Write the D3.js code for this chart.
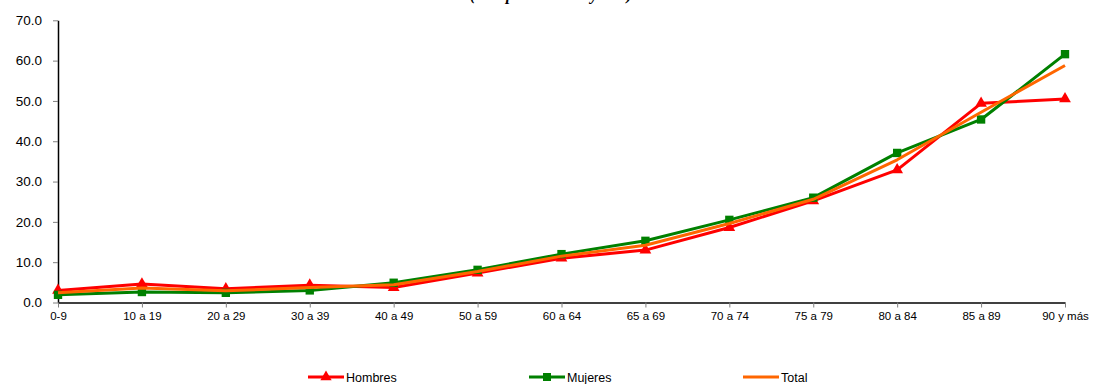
<!DOCTYPE html>
<html lang="es">
<head>
  <meta charset="UTF-8">
  <title>Tasas por grupo de edad</title>
  <script src="https://cdn.jsdelivr.net/npm/d3@7/dist/d3.min.js"></script>
  <style>
  body{
    margin: 0;
    background: #fff;
  }
  .titulo{
    font-family: 'Liberation Serif', serif;
    font-style: italic;
    font-weight: bold;
    font-size: 16px;
    fill: #000;
  }
  .ejeY text{
    font-family: 'Liberation Sans', Arial, sans-serif;
    font-size: 13.5px;
    fill: #000;
  }
  .ejeX text{
    font-family: 'Liberation Sans', Arial, sans-serif;
    font-size: 11.5px;
    fill: #000;
  }
  .ejeY line, .ejeX line{
    stroke: #808080;
  }
  .ejeY path, .ejeX path{
    stroke: #000;
    stroke-width: 1.5px;
  }
  .leyenda{
    font-family: 'Liberation Sans', Arial, sans-serif;
    font-size: 12.5px;
    fill: #000;
  }
  </style>
</head>
<body>
  <div id="grafico"></div>

  <script>
    // datos
    var grupos = ['0-9', '10 a 19', '20 a 29', '30 a 39', '40 a 49', '50 a 59', '60 a 64',
                  '65 a 69', '70 a 74', '75 a 79', '80 a 84', '85 a 89', '90 y más'];
    var hombres = [3.0, 4.6, 3.4, 4.3, 3.7, 7.3, 11.0, 13.0, 18.6, 25.2, 32.9, 49.4, 50.5];
    var mujeres = [1.9, 2.6, 2.4, 3.0, 4.9, 8.1, 12.0, 15.3, 20.5, 26.0, 37.1, 45.4, 61.6];
    var total   = [2.4, 3.6, 2.9, 3.7, 4.4, 7.7, 11.5, 14.2, 19.6, 25.6, 35.4, 47.2, 58.8];
    var ticksY  = [0, 10, 20, 30, 40, 50, 60, 70];
    var nombresSeries = ['Hombres', 'Mujeres', 'Total'];

    var w = 1094;
    var h = 384;
    var izq = 58, der = 1065, arriba = 20.3, abajo = 302.5;

    var series = [
      {nombre: nombresSeries[0], valores: hombres, color: '#FF0000', marca: d3.symbolTriangle},
      {nombre: nombresSeries[1], valores: mujeres, color: '#008000', marca: d3.symbolSquare},
      {nombre: nombresSeries[2], valores: total,   color: '#FF6600', marca: null}
    ];

    var grafico = d3.select("#grafico")
      .append("svg")
      .attr("width", w)
      .attr("height", h);

    //Escalas
    var xScale = d3.scalePoint()
      .domain(grupos)
      .range([izq, der]);

    var yScale = d3.scaleLinear()
      .domain([0, 70])
      .range([abajo, arriba]);

    //titulo (cortado arriba, como en el original)
    grafico.append("text")
      .attr("class", "titulo")
      .attr("x", 551)
      .attr("y", -0.5)
      .attr("text-anchor", "middle")
      .text("(tasa por mil hab. y año)");

    //Eje Y
    grafico.append("g")
      .attr("class", "ejeY")
      .attr("transform", "translate(" + izq + ",0)")
      .call(d3.axisLeft(yScale).tickValues(ticksY).tickSizeInner(5).tickSizeOuter(0)
        .tickPadding(11).tickFormat(d3.format(".1f")));

    //Eje X
    grafico.append("g")
      .attr("class", "ejeX")
      .attr("transform", "translate(0," + abajo + ")")
      .call(d3.axisBottom(xScale).tickSizeInner(5).tickSizeOuter(0).tickPadding(4));

    var linea = d3.line()
      .x(function(d, i){ return xScale(grupos[i]); })
      .y(function(d){ return yScale(d); });

    //Pinta las lineas
    series.forEach(function(s){
      grafico.append("path")
        .datum(s.valores)
        .attr("fill", "none")
        .attr("stroke", s.color)
        .attr("stroke-width", 3)
        .attr("stroke-linejoin", "round")
        .attr("d", linea);

      if (s.marca){
        grafico.selectAll(".m" + s.nombre)
          .data(s.valores)
          .enter()
          .append("path")
          .attr("class", "m" + s.nombre)
          .attr("d", d3.symbol().type(s.marca).size(s.marca === d3.symbolSquare ? 70 : 60))
          .attr("fill", s.color)
          .attr("transform", function(d, i){
            return "translate(" + xScale(grupos[i]) + "," + yScale(d) + ")"; });
      }
    });

    //Leyenda
    var posLeyenda = [308, 529, 743];
    var yLeyenda = 377;
    series.forEach(function(s, i){
      var g = grafico.append("g")
        .attr("transform", "translate(" + posLeyenda[i] + "," + yLeyenda + ")");
      g.append("line")
        .attr("x1", 0).attr("x2", 36)
        .attr("stroke", s.color)
        .attr("stroke-width", 3);
      if (s.marca){
        g.append("path")
          .attr("d", d3.symbol().type(s.marca).size(s.marca === d3.symbolSquare ? 64 : 55))
          .attr("fill", s.color)
          .attr("transform", "translate(18,0)");
      }
      g.append("text")
        .attr("class", "leyenda")
        .attr("x", 38)
        .attr("y", 4.5)
        .text(s.nombre);
    });
  </script>
</body>
</html>
